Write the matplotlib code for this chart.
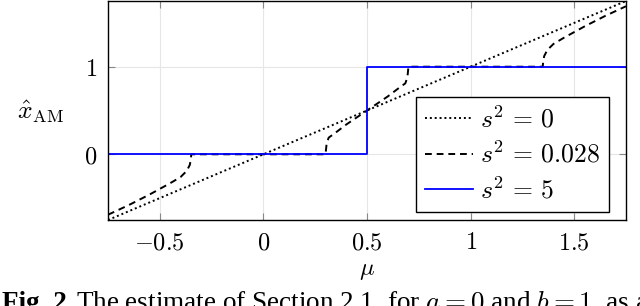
import numpy as np
import matplotlib.pyplot as plt

plt.rcParams['mathtext.fontset'] = 'cm'
plt.rcParams['font.family'] = 'serif'
plt.rcParams['font.serif'] = ['DejaVu Serif']

# s^2 = 0 : identity
mu_s0 = [-0.75, 1.75]
x_s0 = [-0.75, 1.75]

# s^2 = 0.028 : smoothed staircase
mu_s1 = [-0.75, -0.65, -0.55, -0.45, -0.40, -0.37, -0.355, -0.35, -0.348,
         0.30, 0.302, 0.305, 0.315, 0.35, 0.40, 0.45, 0.50,
         0.55, 0.60, 0.65, 0.685, 0.695, 0.698, 0.70,
         1.348, 1.35, 1.355, 1.37, 1.40, 1.45, 1.55, 1.65, 1.75]
x_s1 = [-0.69, -0.58, -0.46, -0.33, -0.26, -0.19, -0.12, -0.05, 0.0,
        0.0, 0.05, 0.12, 0.19, 0.25, 0.34, 0.42, 0.50,
        0.58, 0.66, 0.75, 0.81, 0.88, 0.95, 1.0,
        1.0, 1.05, 1.12, 1.19, 1.26, 1.33, 1.46, 1.58, 1.69]

# s^2 = 5 : hard step
mu_s2 = [-0.75, 0.5, 0.5, 1.75]
x_s2 = [0, 0, 1, 1]

xticks = [-0.5, 0, 0.5, 1, 1.5]
xticklabels = [r'$-0.5$', r'$0$', r'$0.5$', r'$1$', r'$1.5$']
yticks = [0, 1]
yticklabels = [r'$0$', r'$1$']

FS = 17.5

fig = plt.figure(figsize=(6.4, 3.06), dpi=100)
ax = fig.add_axes([108 / 640, 1 - 220 / 306, 518 / 640, 219 / 306])

ax.plot(mu_s0, x_s0, color='black', linestyle=(0, (1, 1.5)), lw=1.4, label=r'$s^2\,=\,0$')
ax.plot(mu_s1, x_s1, color='black', linestyle=(0, (3.5, 2.5)), lw=1.4, label=r'$s^2\,=\,0.028$')
ax.plot(mu_s2, x_s2, color='blue', lw=1.3, label=r'$s^2\,=\,5$')

ax.set_xlim(-0.75, 1.75)
ax.set_ylim(-0.75, 1.75)
ax.set_xticks(xticks)
ax.set_xticklabels(xticklabels, fontsize=FS)
ax.set_yticks(yticks)
ax.set_yticklabels(yticklabels, fontsize=FS)
ax.tick_params(direction='in', top=True, right=True, length=5, width=0.8,
               color='#888888', pad=8)
ax.grid(True, color='#e6e6e6', lw=0.8)
ax.set_axisbelow(True)
for sp in ax.spines.values():
    sp.set_linewidth(1.0)

ax.set_xlabel(r'$\mu$', fontsize=FS, va='center')
ax.xaxis.set_label_coords((367 - 108) / 518, (220 - 270) / 219)
ax.set_ylabel(r'$\hat{x}_{\mathrm{AM}}$', fontsize=FS + 1, rotation=0, ha='center', va='center')
ax.yaxis.set_label_coords((41 - 108) / 518, (220 - 112) / 219)

leg = ax.legend(loc='lower right', bbox_to_anchor=((609 - 108) / 518, (220 - 212) / 219),
                fontsize=FS + 1, frameon=True, fancybox=False,
                edgecolor='black', framealpha=1, borderpad=0.35, labelspacing=0.35,
                handlelength=1.9, handletextpad=0.25, borderaxespad=0)
leg.get_frame().set_linewidth(1.0)

fig.text(0.003, -4 / 306, 'Fig. 2.', fontsize=19.5, fontweight='bold',
         family='Liberation Serif', va='baseline')
fig.text(0.118, -4 / 306, r'The estimate of Section 2.1, for $a = 0$ and $b = 1$, as a',
         fontsize=19.5, family='Liberation Serif', va='baseline')

fig.savefig('out.png', dpi=100)
